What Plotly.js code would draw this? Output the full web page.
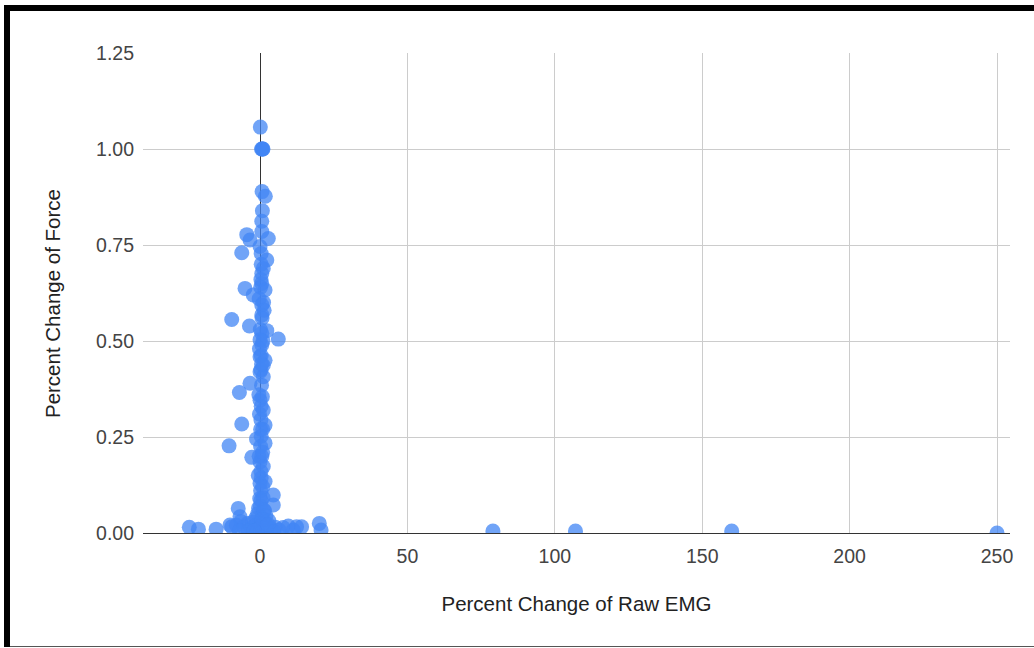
<!DOCTYPE html>
<html>
<head>
<meta charset="utf-8">
<script src="https://cdn.plot.ly/plotly-3.0.1.min.js"></script>
<style>
  html, body { margin: 0; padding: 0; background: #fff; }
  #chart { width: 1034px; height: 648px; position: absolute; left: 0; top: 0; }
  .frame { position: absolute; background: #000; pointer-events: none; }
</style>
</head>
<body>
<div id="chart"></div>
<div class="frame" style="left:4px; top:5px; width:1030px; height:6px;"></div>
<div class="frame" style="left:4px; top:5px; width:6px; height:642px;"></div>
<div class="frame" style="left:10px; top:646px; width:1024px; height:1px; background:#555;"></div>
<script>
// Percent Change of Raw EMG (x) vs Percent Change of Force (y)
const emgChange = [
  0.1, 0.7, 0.9, 0.5, 1.0, 0.7, 1.8, 0.8, 0.6, -4.5,
  -3.4, 0.6, 2.8, 0.0, -6.2, 0.4, 2.3, 0.6, 1.1, 0.3,
  -5.1, 0.6, 0.2, -2.3, 1.7, 0.6, 1.2, 0.6, -9.6, -3.6,
  2.3, 0.6, 0.1, 6.2, 0.0, 0.6, 1.0, 0.0, 0.4, 1.7,
  1.1, 0.3, 0.0, 1.1, -3.4, 0.5, -7.0, 0.0, 0.4, 1.1,
  -0.2, -6.2, 0.3, 1.7, 0.9, -1.2, 0.4, -10.5, 1.7, 0.2,
  -2.8, 0.6, 0.0, 1.1, 0.3, 0.4, 1.7, 0.0, 0.2, 4.5,
  1.0, 0.3, 4.5, 0.1, -0.5, -7.4, 1.5, -6.8, -0.8, 2.0,
  -1.5, 0.6, -6.5, 3.0, -4.2, -2.5, 1.3, -0.3, -24.0, -20.9,
  -14.9, -10.2, -9.6, -8.0, -5.5, -3.0, -1.8, -0.6, 0.4, 1.6,
  2.5, 3.8, 5.2, 6.5, 7.8, 9.6, 11.3, 12.4, 14.1, 20.1,
  20.7, -4.0, -1.0, 0.2, 1.0, 2.2, 4.6, -7.0, -0.4, 0.8,
  0.2, -0.3, 0.9, 0.5, -0.2, 0.7, -0.3, 0.4, 1.4, -0.6,
  0.9, -0.1, 1.3, 0.5, -1.1, 0.8, 2.7, -2.0, 79.0, 107.0,
  160.0, 250.0
];
const forceChange = [
  1.057, 1.000, 1.000, 1.000, 1.000, 0.889, 0.877, 0.839, 0.812, 0.777,
  0.763, 0.785, 0.767, 0.746, 0.730, 0.728, 0.711, 0.676, 0.689, 0.660,
  0.637, 0.650, 0.640, 0.620, 0.633, 0.594, 0.600, 0.568, 0.556, 0.539,
  0.527, 0.520, 0.530, 0.505, 0.503, 0.490, 0.500, 0.459, 0.462, 0.450,
  0.437, 0.425, 0.420, 0.407, 0.390, 0.385, 0.366, 0.346, 0.330, 0.320,
  0.310, 0.284, 0.295, 0.281, 0.270, 0.245, 0.252, 0.227, 0.234, 0.225,
  0.197, 0.199, 0.185, 0.173, 0.160, 0.143, 0.134, 0.129, 0.110, 0.099,
  0.092, 0.085, 0.073, 0.070, 0.065, 0.064, 0.058, 0.042, 0.050, 0.045,
  0.038, 0.040, 0.030, 0.032, 0.025, 0.028, 0.030, 0.025, 0.015, 0.010,
  0.010, 0.021, 0.016, 0.020, 0.015, 0.012, 0.018, 0.010, 0.015, 0.012,
  0.018, 0.010, 0.015, 0.008, 0.014, 0.018, 0.008, 0.016, 0.016, 0.025,
  0.008, 0.005, 0.004, 0.003, 0.006, 0.004, 0.003, 0.006, 0.360, 0.355,
  0.270, 0.200, 0.210, 0.440, 0.480, 0.560, 0.610, 0.700, 0.580, 0.150,
  0.120, 0.090, 0.060, 0.020, 0.008, 0.035, 0.022, 0.005, 0.005, 0.005,
  0.005, 0.000
];
const xTicks = [0, 50, 100, 150, 200, 250];
const yTicks = [0, 0.25, 0.5, 0.75, 1.0, 1.25];
const yTickText = ["0.00", "0.25", "0.50", "0.75", "1.00", "1.25"];
const xTitle = 'Percent Change of Raw EMG';
const yTitle = 'Percent Change of Force';

const trace = {
  type: 'scatter',
  mode: 'markers',
  x: emgChange,
  y: forceChange,
  marker: { size: 15, color: '#4285F4', opacity: 0.75, line: { width: 0 } },
  cliponaxis: true,
  hoverinfo: 'x+y'
};

const layout = {
  width: 1034,
  height: 648,
  margin: { l: 143, r: 24, t: 53, b: 115 },
  paper_bgcolor: '#ffffff',
  plot_bgcolor: '#ffffff',
  showlegend: false,
  font: { family: '"Liberation Sans", Arial, sans-serif', color: '#444', size: 19 },
  xaxis: {
    range: [-39.7, 254.4],
    tickvals: xTicks,
    ticktext: xTicks.map(String),
    showgrid: true,
    gridcolor: '#cccccc',
    gridwidth: 1,
    zeroline: true,
    zerolinecolor: '#333333',
    zerolinewidth: 1,
    showline: true,
    linecolor: '#333333',
    linewidth: 1,
    ticks: '',
    ticklabelstandoff: 6,
    tickfont: { size: 19.5, color: '#444' },
    title: { text: xTitle, font: { size: 20.5, color: '#222' }, standoff: 30 },
    automargin: false,
    fixedrange: true
  },
  yaxis: {
    range: [0, 1.25],
    tickvals: yTicks,
    ticktext: yTickText,
    showgrid: true,
    gridcolor: '#cccccc',
    gridwidth: 1,
    zeroline: false,
    showline: false,
    ticks: '',
    ticklabelstandoff: 8,
    tickfont: { size: 19.5, color: '#444' },
    automargin: false,
    fixedrange: true
  },
  annotations: [{
    text: yTitle,
    xref: 'paper', yref: 'paper',
    x: -0.105, y: 0.479,
    xanchor: 'center', yanchor: 'middle',
    textangle: -90,
    showarrow: false,
    font: { size: 20.5, color: '#222' }
  }]
};

Plotly.newPlot('chart', [trace], layout, { displayModeBar: false, staticPlot: true });
</script>
</body>
</html>
